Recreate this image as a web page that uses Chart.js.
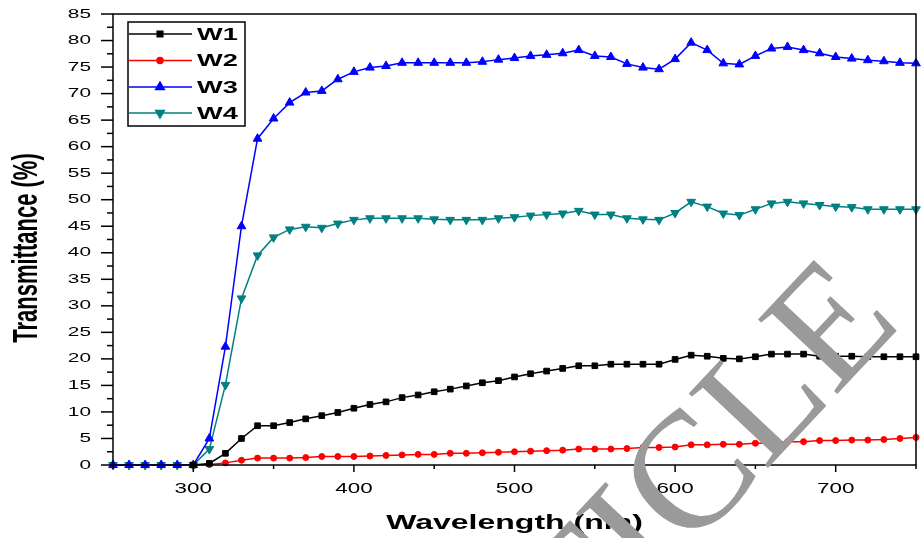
<!DOCTYPE html>
<html>
<head>
<meta charset="utf-8">
<script src="https://cdn.jsdelivr.net/npm/chart.js@4.4.1/dist/chart.umd.min.js"></script>
<style>
  body { margin: 0; background: #fff; }
  #wrap { width: 922px; height: 538px; }
</style>
</head>
<body>
<div id="wrap"><canvas id="transChart"></canvas></div>
<script>
// wavelength (nm)
const wavelengths = [250, 260, 270, 280, 290, 300, 310, 320, 330, 340, 350, 360, 370, 380, 390, 400,
  410, 420, 430, 440, 450, 460, 470, 480, 490, 500, 510, 520, 530, 540, 550, 560, 570, 580, 590, 600,
  610, 620, 630, 640, 650, 660, 670, 680, 690, 700, 710, 720, 730, 740, 750];

// transmittance (%)
const w1 = [null, null, null, null, null, 0, 0.3, 2.2, 5.0, 7.4, 7.4, 8.0, 8.7, 9.3, 9.9, 10.7,
  11.4, 11.9, 12.7, 13.2, 13.8, 14.3, 14.9, 15.5, 15.9, 16.6, 17.2, 17.7, 18.2, 18.7, 18.7, 19.0, 19.0, 19.0, 19.0, 19.9,
  20.7, 20.5, 20.1, 20.0, 20.4, 20.9, 20.9, 20.9, 20.5, 20.5, 20.5, 20.4, 20.4, 20.4, 20.4];
const w2 = [null, null, null, null, null, 0, 0.1, 0.4, 0.9, 1.3, 1.3, 1.3, 1.4, 1.6, 1.6, 1.6,
  1.7, 1.8, 1.9, 2.0, 2.0, 2.2, 2.2, 2.3, 2.4, 2.5, 2.6, 2.7, 2.8, 3.0, 3.0, 3.0, 3.1, 3.3, 3.3, 3.4,
  3.8, 3.8, 3.9, 3.9, 4.1, 4.2, 4.4, 4.4, 4.6, 4.6, 4.7, 4.7, 4.8, 5.0, 5.2];
const w3 = [0, 0, 0, 0, 0, 0, 5.0, 22.3, 45.0, 61.5, 65.3, 68.3, 70.2, 70.5, 72.7, 74.1,
  74.9, 75.2, 75.8, 75.8, 75.8, 75.8, 75.8, 76.0, 76.4, 76.7, 77.1, 77.3, 77.6, 78.2, 77.1, 76.9, 75.6, 74.9, 74.6, 76.5,
  79.6, 78.2, 75.7, 75.5, 77.1, 78.5, 78.8, 78.2, 77.6, 76.9, 76.6, 76.3, 76.1, 75.8, 75.7];
const w4 = [0, 0, 0, 0, 0, 0, 3.0, 15.1, 31.4, 39.5, 42.9, 44.4, 44.9, 44.7, 45.5, 46.2,
  46.5, 46.5, 46.5, 46.5, 46.3, 46.2, 46.2, 46.2, 46.5, 46.7, 47.0, 47.2, 47.4, 47.9, 47.2, 47.2, 46.5, 46.3, 46.2, 47.5,
  49.6, 48.7, 47.4, 47.1, 48.2, 49.3, 49.6, 49.3, 49.0, 48.7, 48.6, 48.2, 48.2, 48.2, 48.2];

const seriesNames = ["W1", "W2", "W3", "W4"];
const yTicks = [0, 5, 10, 15, 20, 25, 30, 35, 40, 45, 50, 55, 60, 65, 70, 75, 80, 85];
const xTicks = [300, 400, 500, 600, 700];
const xTitle = "Wavelength (nm)";
const yTitle = "Transmittance (%)";

// the original picture is stretched sideways, so text is too
const SX = 1.6;

function toPoints(ys) {
  return wavelengths.map((x, i) => ({ x: x, y: ys[i] }));
}

function wideText(ctx, text, x, y, font, align, baseline, rot) {
  ctx.save();
  ctx.translate(x, y);
  ctx.scale(SX, 1);
  if (rot) ctx.rotate(rot);
  ctx.font = font;
  ctx.textAlign = align;
  ctx.textBaseline = baseline;
  ctx.fillStyle = "#000";
  ctx.fillText(text, 0, 0);
  ctx.restore();
}

function seg(ctx, x1, y1, x2, y2) {
  ctx.beginPath();
  ctx.moveTo(x1, y1);
  ctx.lineTo(x2, y2);
  ctx.stroke();
}

const decorPlugin = {
  id: "decor",
  afterDraw(chart) {
    const { ctx, chartArea: a, scales } = chart;
    const x = scales.x, y = scales.y;
    ctx.save();
    ctx.strokeStyle = "#000";
    ctx.lineWidth = 1.5;
    ctx.strokeRect(a.left, a.top, a.right - a.left, a.bottom - a.top);

    // y ticks
    for (let v = 2.5; v < 85; v += 5) {
      const py = y.getPixelForValue(v);
      seg(ctx, a.left - 6, py, a.left, py);
    }
    yTicks.forEach(v => {
      const py = y.getPixelForValue(v);
      seg(ctx, a.left - 12, py, a.left, py);
      wideText(ctx, String(v), a.left - 22, py, "13px 'Liberation Sans', Arial", "right", "middle");
    });

    // x ticks
    for (let v = 250; v <= 750; v += 100) {
      const px = x.getPixelForValue(v);
      seg(ctx, px, a.bottom, px, a.bottom + 4);
    }
    xTicks.forEach(v => {
      const px = x.getPixelForValue(v);
      seg(ctx, px, a.bottom, px, a.bottom + 7);
      wideText(ctx, String(v), px, a.bottom + 24, "14px 'Liberation Sans', Arial", "center", "middle");
    });

    // axis titles
    wideText(ctx, xTitle, (a.left + a.right) / 2, 529, "bold 20px 'Liberation Sans', Arial", "center", "alphabetic");
    wideText(ctx, yTitle, 27, 248, "bold 22px 'Liberation Sans', Arial", "center", "middle", -Math.PI / 2);

    // legend
    const lx = 128, ly = 22, lw = 117, lh = 104;
    ctx.fillStyle = "#fff";
    ctx.fillRect(lx, ly, lw, lh);
    ctx.lineWidth = 1.5;
    ctx.strokeStyle = "#000";
    ctx.strokeRect(lx, ly, lw, lh);
    const rows = [34, 60.5, 87, 113];
    chart.data.datasets.forEach((ds, i) => {
      const ry = rows[i];
      ctx.strokeStyle = ds.borderColor;
      ctx.fillStyle = ds.borderColor;
      ctx.lineWidth = 1.5;
      seg(ctx, lx + 1, ry, lx + 64, ry);
      Chart.helpers.drawPoint(ctx, {
        pointStyle: ds.pointStyle,
        rotation: ds.pointRotation || 0,
        radius: ds.pointRadius,
        borderWidth: 1
      }, lx + 32, ry);
      wideText(ctx, seriesNames[i], lx + 69, ry + 1, "bold 17px 'Liberation Sans', Arial", "left", "middle");
    });

    // watermark, centred on the "C"
    ctx.font = "166px 'Liberation Serif', 'Times New Roman', serif";
    const pre = ctx.measureText("ARTI").width + ctx.measureText("C").width / 2;
    ctx.translate(695, 482);
    ctx.rotate(-0.817);
    ctx.fillStyle = "#9a9a9a";
    ctx.textAlign = "left";
    ctx.textBaseline = "middle";
    ctx.fillText("ARTICLE", -pre, 0);
    ctx.restore();
  }
};

const ctx = document.getElementById("transChart").getContext("2d");
const transChart = new Chart(ctx, {
  type: "line",
  data: {
    datasets: [
      {
        label: seriesNames[0],
        data: toPoints(w1),
        borderColor: "#000000",
        backgroundColor: "#000000",
        pointStyle: "rect",
        pointRadius: 4,
      },
      {
        label: seriesNames[1],
        data: toPoints(w2),
        borderColor: "#ff0000",
        backgroundColor: "#ff0000",
        pointStyle: "circle",
        pointRadius: 3,
      },
      {
        label: seriesNames[2],
        data: toPoints(w3),
        borderColor: "#0000ff",
        backgroundColor: "#0000ff",
        pointStyle: "triangle",
        pointRadius: 5,
      },
      {
        label: seriesNames[3],
        data: toPoints(w4),
        borderColor: "#008080",
        backgroundColor: "#008080",
        pointStyle: "triangle",
        pointRotation: 180,
        pointRadius: 5,
      },
    ],
  },
  options: {
    responsive: true,
    maintainAspectRatio: false,
    animation: false,
    layout: { padding: { top: 14, right: 4, left: 0, bottom: 0 } },
    elements: {
      line: { borderWidth: 1.5, tension: 0 },
      point: { borderWidth: 1 },
    },
    datasets: { line: { clip: false } },
    plugins: {
      legend: { display: false },
      tooltip: { enabled: false },
    },
    scales: {
      x: {
        type: "linear",
        min: 250,
        max: 750,
        ticks: { display: false },
        grid: { display: false },
        border: { display: false },
        afterFit: (scale) => { scale.height = 73; },
      },
      y: {
        min: 0,
        max: 85,
        ticks: { display: false },
        grid: { display: false },
        border: { display: false },
        afterFit: (scale) => { scale.width = 113; },
      },
    },
  },
  plugins: [decorPlugin],
});
</script>
</body>
</html>
